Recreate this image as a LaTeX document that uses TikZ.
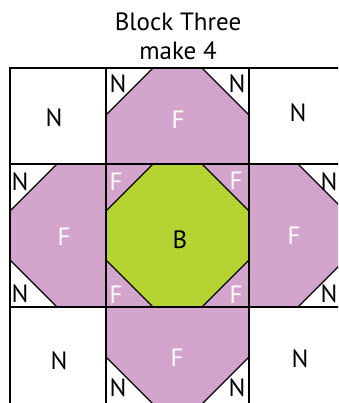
\documentclass[tikz,border=0pt]{standalone}
\usepackage{fontspec}
\setmainfont{PT Sans}
\usetikzlibrary{positioning}
\definecolor{quiltpink}{RGB}{211,165,205}
\definecolor{quiltgreen}{RGB}{181,212,51}

\begin{document}
\begin{tikzpicture}[
    x=1pt, y=-1pt,
    seam/.style={draw=black, line width=1.2pt, line join=miter},
    patch/.style={seam, fill=quiltpink},
    centre/.style={seam, fill=quiltgreen},
    tag/.style={font=\fontsize{25}{28}\selectfont, inner sep=0pt, text=black},
    ftag/.style={tag, text=white},
    heading/.style={font=\fontsize{25}{28}\selectfont, inner sep=0pt}
]
\useasboundingbox (0,0) rectangle (338,403);

% title
\node [heading] (title) at (178,22) {Block Three};
\node [heading] (count) at (178,51) {make 4};

\begin{scope}
\clip (0,0) rectangle (338,403);
% flying geese patches
\path [patch] (153,68) -- (202,68) -- (249,115) -- (249,164) -- (106,164) -- (106,115) -- cycle;
\path [patch] (57,164) -- (106,164) -- (106,307) -- (57,307) -- (10,260) -- (10,211) -- cycle;
\path [patch] (249,164) -- (298,164) -- (345,211) -- (345,260) -- (298,307) -- (249,307) -- cycle;
\path [patch] (106,307) -- (249,307) -- (249,357) -- (202,404) -- (153,404) -- (106,357) -- cycle;
% centre square
\path [patch] (106,164) rectangle (249,307);
\path [centre] (153,164) -- (202,164) -- (249,211) -- (249,260) -- (202,307) -- (153,307) -- (106,260) -- (106,211) -- cycle;
% grid
\draw [seam] (10,68) rectangle (345,404);
\foreach \x in {106,249}
    \draw [seam] (\x,68) -- (\x,404);
\foreach \y in {164,307}
    \draw [seam] (10,\y) -- (345,\y);
\end{scope}

% corner squares
\node [tag] (nw) at (54,118) {N};
\node [tag] (ne) at (298,113) {N};
\node [tag] (sw) at (59,361) {N};
\node [tag] (se) at (300,359) {N};

% top goose
\node [ftag] (ftop) at (178,120) {F};
\node [tag] (ntopl) at (118,84) {N};
\node [tag] (ntopr) at (237,84) {N};
% left goose
\node [ftag] (fleft) at (64,237) {F};
\node [tag] (nleftt) at (20,182) {N};
\node [tag] (nleftb) at (20,294) {N};
% right goose
\node [ftag] (fright) at (294,236) {F};
\node [tag] (nrightt) at (329,182) {N};
\node [tag] (nrightb) at (329,294) {N};
% bottom goose
\node [ftag] (fbottom) at (177,358) {F};
\node [tag] (nbottoml) at (118,388) {N};
\node [tag] (nbottomr) at (237,388) {N};

% centre block
\node [tag] (b) at (180,240) {B};
\node [ftag] (fnw) at (116,182) {F};
\node [ftag] (fne) at (236,181) {F};
\node [ftag] (fsw) at (116,295) {F};
\node [ftag] (fse) at (236,295) {F};

\end{tikzpicture}
\end{document}
